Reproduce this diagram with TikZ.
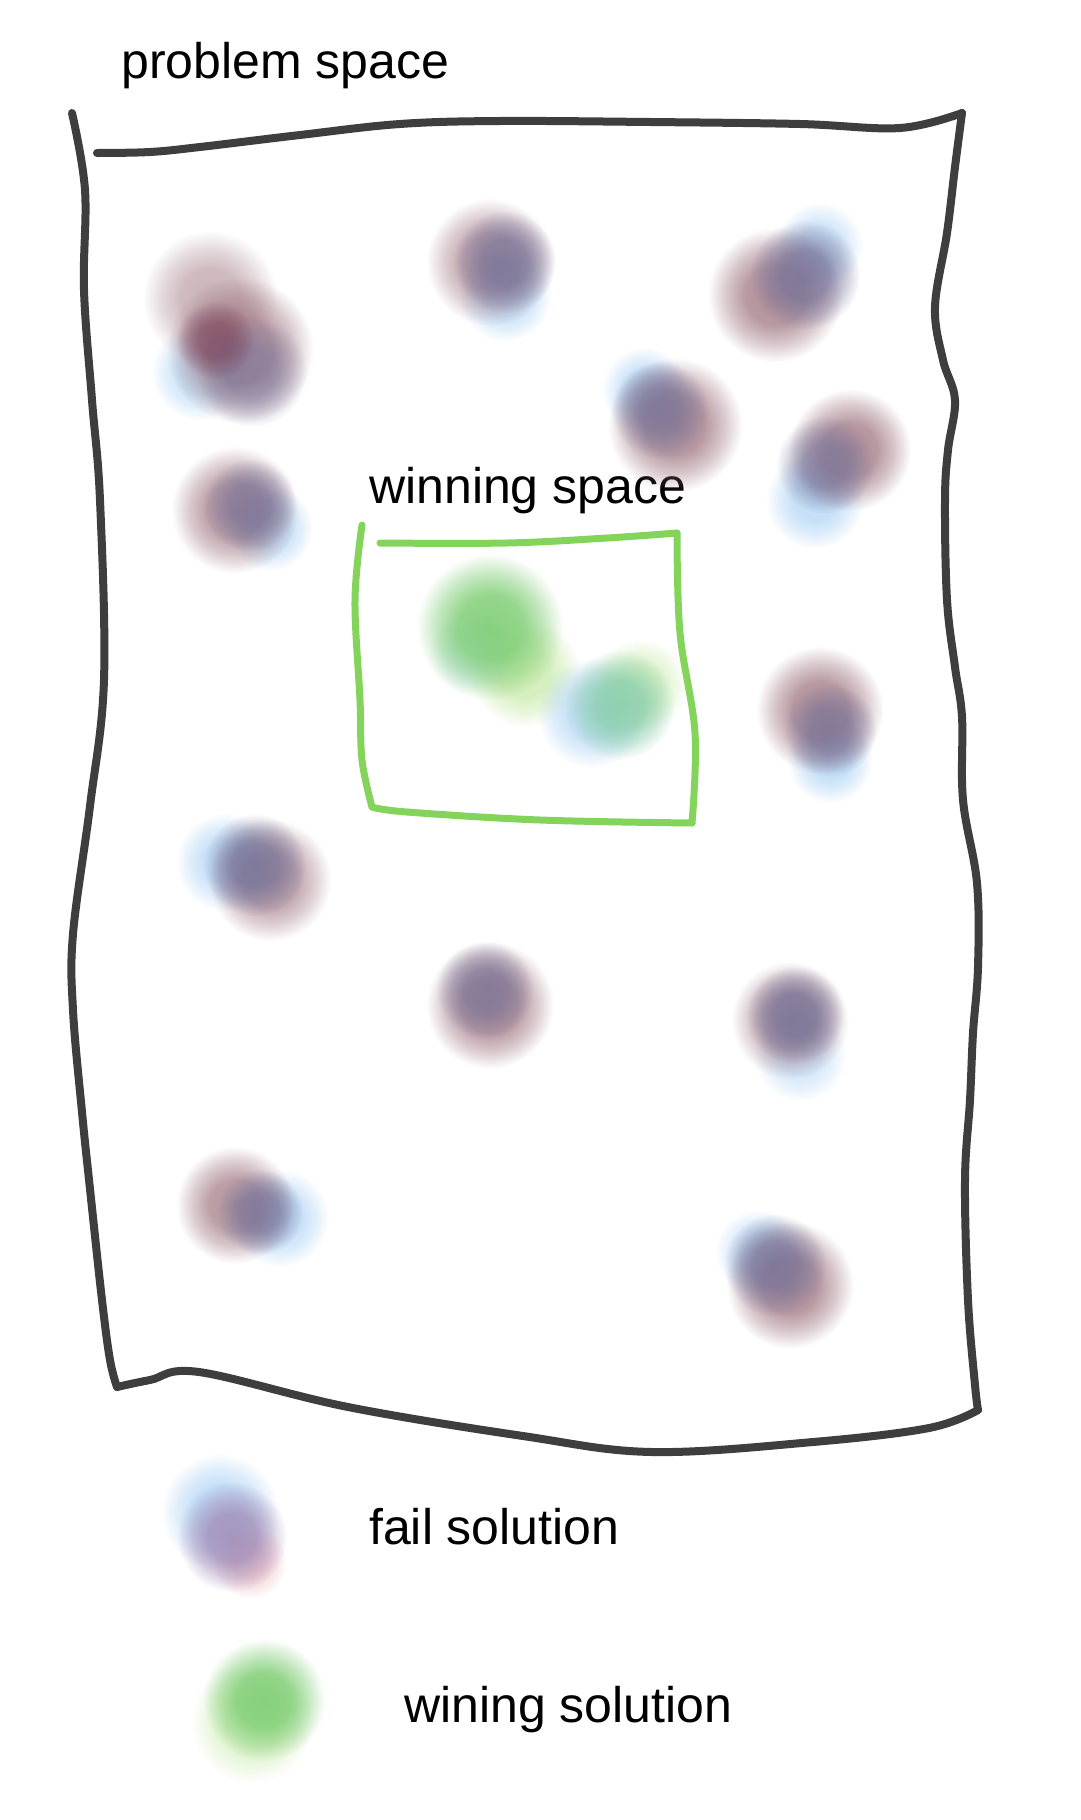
\documentclass[tikz,border=0pt]{standalone}
\usepackage{fontspec}
\setmainfont{Liberation Sans}
\usetikzlibrary{fadings}

% Colors
\definecolor{pencil}{RGB}{62,62,62}
\definecolor{boxgreen}{RGB}{132,212,92}
\definecolor{mauve}{RGB}{150,105,118}
\definecolor{plum}{RGB}{120,62,88}
\definecolor{slate}{RGB}{112,110,150}
\definecolor{skyblue}{RGB}{168,208,244}
\definecolor{lavender}{RGB}{160,138,182}
\definecolor{rosy}{RGB}{232,160,168}
\definecolor{leafgreen}{RGB}{125,205,115}
\definecolor{palegreen}{RGB}{195,232,160}
\definecolor{tealgreen}{RGB}{135,205,170}

% soft edge for the smudges
\pgfdeclareradialshading{blobmask}{\pgfpointorigin}{color(0bp)=(white); color(11bp)=(white!90!black); color(18bp)=(white!50!black); color(25bp)=(black); color(50bp)=(black)}
\pgfdeclarefading{blobfade}{\pgfuseshading{blobmask}}

\begin{document}
\begin{tikzpicture}[x=1pt,y=-1pt,
  label/.style={font=\fontsize{50}{60}\selectfont, anchor=base west, inner sep=0pt},
  smudge/.style={fill=#1, path fading=blobfade},
  pencilline/.style={pencil, line width=8pt, line cap=round, line join=round},
  greenline/.style={boxgreen, line width=7pt, line cap=round, line join=round}]

\useasboundingbox[fill=white] (0,0) rectangle (1080,1820);

% Titles
\node[label] (problem) at (121,78) {problem space};
\node[label] (winning) at (369,503) {winning space};

% Problem space outline
\draw[pencilline] plot[smooth, tension=0.6] coordinates {(72,113) (85,190) (84,290) (92,400) (100,500) (104,680) (90,806) (73,934) (73,1010) (82,1112) (90,1189) (102,1300) (110,1360) (117,1387)};
\draw[pencilline] plot[smooth, tension=0.6] coordinates {(117,1387) (150,1380) (199,1372) (348,1407) (523,1436) (652,1452) (813,1442) (929,1428) (978,1410)};
\draw[pencilline] plot[smooth, tension=0.6] coordinates {(978,1410) (975,1385) (968,1300) (965,1180) (970,1100) (973,1033) (978,967) (977,883) (963,800) (962,717) (955,667) (947,600) (945,500) (948,450) (955,400) (943,360) (935,307) (947,233) (955,167) (962,113)};
\draw[pencilline] plot[smooth, tension=0.6] coordinates {(962,113) (900,128) (800,124) (650,122) (500,121) (400,124) (300,135) (200,147) (150,152) (97,153)};

% Winning space outline
\draw[greenline] plot[smooth, tension=0.6] coordinates {(380,543) (507,543) (607,538) (677,533)};
\draw[greenline] plot[smooth, tension=0.6] coordinates {(677,533) (680,633) (695,733) (692,823)};
\draw[greenline] plot[smooth, tension=0.6] coordinates {(692,823) (540,820) (407,812) (372,807)};
\draw[greenline] plot[smooth, tension=0.6] coordinates {(372,807) (362,760) (360,700) (355,600) (362,525)};

% Fail solutions
\foreach \c/\x/\y/\r/\o in {
    skyblue/200/372/40/0.65, mauve/210/298/55/0.5, mauve/240/350/60/0.75, slate/252/372/45/0.55, plum/215/340/32/0.6,
    skyblue/505/295/38/0.7, mauve/490/262/52/0.65, slate/505/262/42/0.7,
    skyblue/820/245/35/0.6, mauve/775/295/55/0.75, slate/805/275/45/0.75,
    skyblue/645/390/35/0.7, mauve/675/425/55/0.75, slate/660/410/40/0.65,
    skyblue/815/500/40/0.7, mauve/850/450/50/0.75, slate/825/465/40/0.65,
    skyblue/270/528/35/0.7, mauve/235/510/52/0.7, slate/250/505/38/0.65,
    skyblue/830/760/35/0.7, mauve/820/710/52/0.75, slate/830/730/38/0.65,
    skyblue/225/862/40/0.7, mauve/270/880/50/0.65, slate/255/865/42/0.75,
    mauve/490/1005/52/0.75, slate/485/990/40/0.65,
    skyblue/800/1055/38/0.55, mauve/790/1020/48/0.65, slate/795/1015/40/0.75,
    skyblue/280/1218/40/0.7, mauve/235/1205/48/0.7, slate/260/1212/35/0.65,
    skyblue/758/1252/35/0.6, mauve/790/1285/52/0.75, slate/775/1265/42/0.7} {
    \fill[smudge=\c, fill opacity=\o] (\x,\y) circle[radius={1.22*\r pt}];
}

% Winning solutions
\foreach \c/\x/\y/\r/\o in {
    palegreen/525/672/45/0.75, skyblue/472/650/35/0.4, leafgreen/490/627/60/0.9,
    skyblue/592/713/45/0.7, palegreen/640/685/38/0.6, tealgreen/620/705/45/0.85} {
    \fill[smudge=\c, fill opacity=\o] (\x,\y) circle[radius={1.22*\r pt}];
}

% Legend
\foreach \c/\x/\y/\r/\o in {
    skyblue/220/1512/48/0.75, rosy/250/1562/30/0.5, lavender/232/1537/45/0.85,
    palegreen/252/1722/50/0.6, leafgreen/264/1700/50/0.9} {
    \fill[smudge=\c, fill opacity=\o] (\x,\y) circle[radius={1.22*\r pt}];
}
\node[label] (fail) at (369,1544) {fail solution};
\node[label] (win) at (404,1722) {wining solution};

\end{tikzpicture}
\end{document}
